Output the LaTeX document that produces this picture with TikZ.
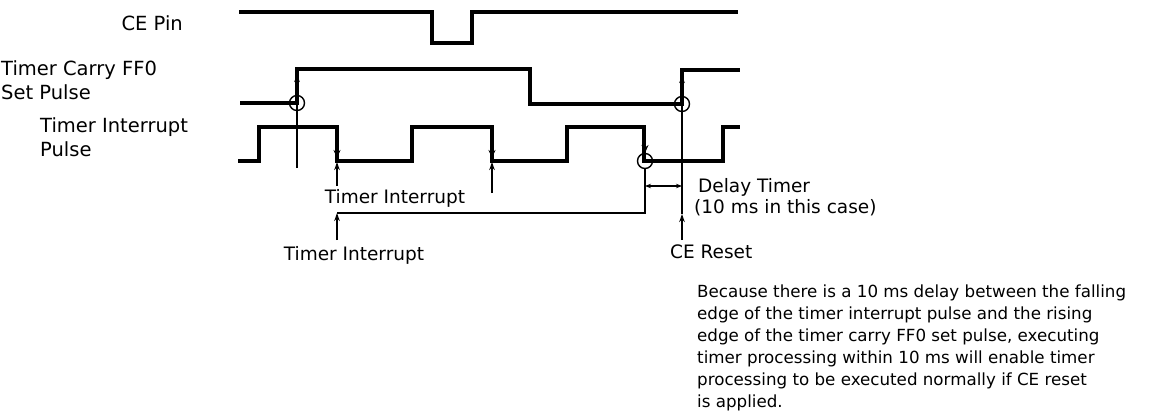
\documentclass[tikz,border=0pt]{standalone}
\usepackage{fontspec}
\setmainfont{DejaVu Sans}
\usetikzlibrary{arrows.meta}
\begin{document}
\begin{tikzpicture}[x=1pt,y=-1pt,
 sig/.style={line width=3.2pt, line join=miter},
 thinline/.style={line width=1.4pt},
 tip/.style={-{Stealth[length=8pt,width=5.5pt]}},
 edgetip/.style={-{Stealth[length=8pt,width=7pt]}},
 lbl/.style={font=\fontsize{16.7}{22}\selectfont, inner sep=0pt},
 sidelbl/.style={font=\fontsize{19.5}{24}\selectfont, inner sep=0pt},
 notelbl/.style={font=\fontsize{18.5}{21}\selectfont, inner sep=0pt},
 ring/.style={circle, draw, line width=1.4pt, minimum size=15pt, inner sep=0pt}]
\useasboundingbox (0,0) rectangle (1163,412);
% labels
\node[sidelbl, anchor=east] (lce) at (183,23) {CE Pin};
\node[sidelbl, anchor=west, align=left] (lff) at (1,80) {Timer Carry FF0\\Set Pulse};
\node[sidelbl, anchor=west, align=left] (lti) at (40,137) {Timer Interrupt\\Pulse};
% waveforms
\draw[sig] (239,12) -- (432,12) -- (432,43) -- (472,43) -- (472,12) -- (738,12);
\draw[sig] (240,103) -- (297,103) -- (297,69) -- (530,69) -- (530,104) -- (682,104) -- (682,70) -- (740,70);
\draw[sig] (238,161) -- (259,161) -- (259,127) -- (337,127) -- (337,161) -- (412,161) -- (412,127) -- (492,127) -- (492,161) -- (567,161) -- (567,127) -- (644,127) -- (644,161) -- (723,161) -- (723,127) -- (740,127);
% circles
\node[ring] (c1) at (297,103) {};
\node[ring] (c2) at (682,104) {};
\node[ring] (c3) at (645,161) {};
% coordinates
\coordinate (a1) at (297,168);
\coordinate (r1) at (297,74);
\coordinate (ce0) at (682,240);
\coordinate (ce1) at (682,214);
\coordinate (r2) at (682,75);
\coordinate (u1a) at (337,186);
\coordinate (u1b) at (337,162);
\coordinate (u2a) at (492,193);
\coordinate (u2b) at (492,162);
\coordinate (d1a) at (337,140);
\coordinate (d1b) at (337,158);
\coordinate (d2a) at (492,140);
\coordinate (d2b) at (492,158);
\coordinate (d3a) at (645,135);
\coordinate (d3b) at (645,153);
\coordinate (b1) at (645,169);
\coordinate (b2) at (645,213);
\coordinate (b3) at (337,213);
\coordinate (t0) at (337,240);
\coordinate (dl) at (645,186);
\coordinate (dr) at (682,186);
% arrows
\draw[thinline,tip] (a1) -- (r1);
\draw[thinline,tip] (ce0) -- (ce1);
\draw[thinline,tip] (ce1) -- (r2);
\draw[thinline,tip] (u1a) -- (u1b);
\draw[thinline,tip] (u2a) -- (u2b);
\draw[thinline,edgetip] (d1a) -- (d1b);
\draw[thinline,edgetip] (d2a) -- (d2b);
\draw[thinline,edgetip] (d3a) -- (d3b);
\draw[thinline] (b1) -- (b2) -- (b3);
\draw[thinline,tip] (t0) -- (b3);
\draw[thinline,{Stealth[length=6pt,width=4.5pt]}-{Stealth[length=6pt,width=4.5pt]}] (dl) -- (dr);
% annotation texts
\node[notelbl] (ti1) at (395,198) {Timer Interrupt};
\node[notelbl] (ti2) at (354,255) {Timer Interrupt};
\node[notelbl, anchor=west] (dt) at (698,187) {Delay Timer};
\node[notelbl, anchor=west] (dt2) at (694,208) {(10 ms in this case)};
\node[notelbl, anchor=west] (cer) at (670,252) {CE Reset};
\node[lbl, anchor=north west, align=left] (body) at (697,285) {Because there is a 10 ms delay between the falling\\edge of the timer interrupt pulse and the rising\\edge of the timer carry FF0 set pulse, executing\\timer processing within 10 ms will enable timer\\processing to be executed normally if CE reset\\is applied.};
\end{tikzpicture}
\end{document}
